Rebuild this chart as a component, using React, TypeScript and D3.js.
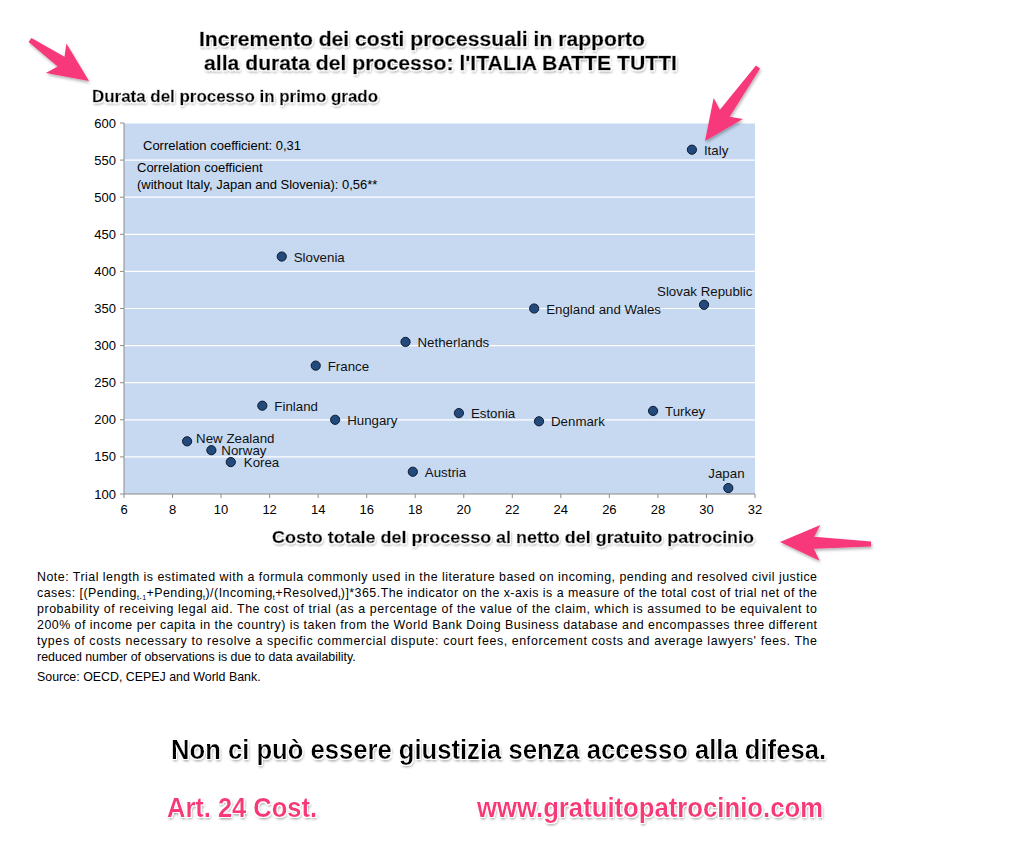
import React from "react";
import * as d3 from "d3";

const countries = ["Italy", "Slovenia", "Slovak Republic", "England and Wales", "Netherlands", "France", "Finland", "Hungary", "Estonia", "Denmark", "Turkey", "New Zealand", "Norway", "Korea", "Austria", "Japan"];
const costValues = [29.4, 12.5, 29.9, 22.9, 17.6, 13.9, 11.7, 14.7, 19.8, 23.1, 27.8, 8.6, 9.6, 10.4, 17.9, 30.9];
const durationValues = [564, 420, 355, 350, 305, 273, 219, 200, 209, 198, 212, 171, 159, 143, 130, 108];

const xTicks = [6, 8, 10, 12, 14, 16, 18, 20, 22, 24, 26, 28, 30, 32];
const yTicks = [100, 150, 200, 250, 300, 350, 400, 450, 500, 550, 600];

const titleLines = ["Incremento dei costi processuali in rapporto", "alla durata del processo: l'ITALIA BATTE TUTTI"];
const yAxisTitle = "Durata del processo in primo grado";
const xAxisTitle = "Costo totale del processo al netto del gratuito patrocinio";
const corrLines = ["Correlation coefficient: 0,31", "Correlation coefficient", "(without Italy, Japan and Slovenia): 0,56**"];
const noteLines = [
  "Note: Trial length is estimated with a formula commonly used in the literature based on incoming, pending and resolved civil justice",
  "SUBSCRIPT_LINE",
  "probability of receiving legal aid. The cost of trial (as a percentage of the value of the claim, which is assumed to be equivalent to",
  "200% of income per capita in the country) is taken from the World Bank Doing Business database and encompasses three different",
  "types of costs necessary to resolve a specific commercial dispute: court fees, enforcement costs and average lawyers' fees. The",
  "reduced number of observations is due to data availability.",
];
const sourceLine = "Source: OECD, CEPEJ and World Bank.";
const slogan = "Non ci può essere giustizia senza accesso alla difesa.";
const footerLeft = "Art. 24 Cost.";
const footerRight = "www.gratuitopatrocinio.com";

// label placement (offsets from the marker)
const labelPlacement: Record<string, [number, number, string]> = {
  "Slovak Republic": [-47, -9, "start"],
  Japan: [-20, -10, "start"],
  "New Zealand": [9, 2, "start"],
  Norway: [10, 5, "start"],
  Korea: [13, 5, "start"],
};

const FONT = "'Liberation Sans', Arial, Helvetica, sans-serif";
const PINK = "#f7377a";

function arrowPath(x0: number, y0: number, x1: number, y1: number) {
  const dx = x1 - x0, dy = y1 - y0;
  const L = Math.hypot(dx, dy);
  const ux = dx / L, uy = dy / L;
  const nx = -uy, ny = ux;
  const headLen = 34, headW = 18, barb = 6;
  const tailW = 2.5, neckW = 6;
  const bx = x1 - ux * headLen, by = y1 - uy * headLen;
  const cx = bx - ux * barb, cy = by - uy * barb;
  const pts: [number, number][] = [
    [x0 + nx * tailW, y0 + ny * tailW],
    [bx + nx * neckW, by + ny * neckW],
    [cx + nx * headW, cy + ny * headW],
    [x1, y1],
    [cx - nx * headW, cy - ny * headW],
    [bx - nx * neckW, by - ny * neckW],
    [x0 - nx * tailW, y0 - ny * tailW],
  ];
  return "M" + pts.map((p) => p.join(",")).join("L") + "Z";
}

export default function App() {
  const left = 124, right = 755, top = 123, bottom = 494;
  const x = d3.scaleLinear().domain([6, 32]).range([left, right]);
  const y = d3.scaleLinear().domain([100, 600]).range([bottom, top]);

  const noteX = 37, noteW = 780, noteY0 = 581, noteStep = 16;

  return (
    <svg width={1024} height={861} style={{ position: "absolute", left: 0, top: 0, background: "#fff" }} fontFamily={FONT}>
      <defs>
        <filter id="shadow" x="-5%" y="-30%" width="110%" height="160%">
          <feMorphology in="SourceAlpha" operator="dilate" radius="1" result="dil" />
          <feFlood floodColor="#ffffff" />
          <feComposite in2="dil" operator="in" result="white" />
          <feGaussianBlur in="SourceAlpha" stdDeviation="1.5" result="blur" />
          <feOffset in="blur" dx="1" dy="2" result="off" />
          <feComponentTransfer in="off" result="shadowFaint">
            <feFuncA type="linear" slope="0.45" />
          </feComponentTransfer>
          <feMerge>
            <feMergeNode in="shadowFaint" />
            <feMergeNode in="white" />
            <feMergeNode in="SourceGraphic" />
          </feMerge>
        </filter>
        <filter id="arrowShadow" x="-20%" y="-20%" width="140%" height="140%">
          <feDropShadow dx="1" dy="2" stdDeviation="1.5" floodColor="#000" floodOpacity="0.3" />
        </filter>
      </defs>

      {/* Title */}
      <g filter="url(#shadow)" fontWeight="bold" fill="#000" stroke="#000" strokeWidth={0.5}>
        <text x={199} y={46} fontSize={19.5} textLength={446} lengthAdjust="spacingAndGlyphs">{titleLines[0]}</text>
        <text x={204} y={70} fontSize={19.5} textLength={473} lengthAdjust="spacingAndGlyphs">{titleLines[1]}</text>
      </g>

      {/* Y-axis title */}
      <text x={92} y={102} fontSize={16} fontWeight="bold" stroke="#000" strokeWidth={0.4} textLength={286} lengthAdjust="spacingAndGlyphs" filter="url(#shadow)">{yAxisTitle}</text>

      {/* Plot area */}
      <rect x={left} y={top} width={right - left} height={bottom - top} fill="#c6d9f1" />
      {yTicks.filter((t) => t !== 100).map((t) => (
        <line key={"g" + t} x1={left} x2={right} y1={y(t)} y2={y(t)} stroke="#ffffff" strokeWidth={1.2} />
      ))}
      {/* Axes */}
      <line x1={left} x2={left} y1={top} y2={bottom} stroke="#8c8c8c" />
      <line x1={left} x2={right} y1={bottom} y2={bottom} stroke="#8c8c8c" />
      {yTicks.map((t) => (
        <g key={"y" + t}>
          <line x1={left - 4} x2={left} y1={y(t)} y2={y(t)} stroke="#8c8c8c" />
          <text x={left - 8} y={y(t) + 4.5} fontSize={13} textAnchor="end" fill="#000">{t}</text>
        </g>
      ))}
      {xTicks.map((t) => (
        <g key={"x" + t}>
          <line x1={x(t)} x2={x(t)} y1={bottom} y2={bottom + 4} stroke="#8c8c8c" />
          <text x={x(t)} y={bottom + 20} fontSize={13} textAnchor="middle" fill="#000">{t}</text>
        </g>
      ))}

      {/* Correlation annotations */}
      <text x={143} y={150} fontSize={13}>{corrLines[0]}</text>
      <text x={137} y={172} fontSize={13}>{corrLines[1]}</text>
      <text x={137} y={189} fontSize={13}>{corrLines[2]}</text>

      {/* Points */}
      {countries.map((c, i) => {
        const px = x(costValues[i]);
        const py = y(durationValues[i]);
        const pl = labelPlacement[c] || [12, 5, "start"];
        return (
          <g key={c}>
            <circle cx={px} cy={py} r={4.6} fill="#234a7c" stroke="#0d1a2e" strokeWidth={1} />
            <text x={px + pl[0]} y={py + pl[1]} fontSize={13.3} textAnchor={pl[2]} fill="#111">{c}</text>
          </g>
        );
      })}

      {/* X-axis title */}
      <text x={272} y={543} fontSize={16} fontWeight="bold" stroke="#000" strokeWidth={0.4} textLength={482} lengthAdjust="spacingAndGlyphs" filter="url(#shadow)">{xAxisTitle}</text>

      {/* Note */}
      <g fontSize={12.4} fill="#000">
        {noteLines.map((line, i) => {
          const yy = noteY0 + i * noteStep;
          const justify = i < noteLines.length - 1;
          if (line === "SUBSCRIPT_LINE") {
            return (
              <text key={i} x={noteX} y={yy} textLength={noteW} lengthAdjust="spacing">
                cases: [(Pending<tspan fontSize={7} dy={3}>t-1</tspan><tspan dy={-3}>+Pending</tspan><tspan fontSize={7} dy={3}>t</tspan><tspan dy={-3}>)/(Incoming</tspan><tspan fontSize={7} dy={3}>t</tspan><tspan dy={-3}>+Resolved</tspan><tspan fontSize={7} dy={3}>t</tspan><tspan dy={-3}>)]*365.The indicator on the x-axis is a measure of the total cost of trial net of the</tspan>
              </text>
            );
          }
          return (
            <text key={i} x={noteX} y={yy} {...(justify ? { textLength: noteW, lengthAdjust: "spacing" } : {})}>{line}</text>
          );
        })}
        <text x={noteX} y={681}>{sourceLine}</text>
      </g>

      {/* Slogan & footer */}
      <g filter="url(#shadow)" fontWeight="bold">
        <text x={171} y={759} fontSize={27} fill="#000" textLength={655} lengthAdjust="spacingAndGlyphs">{slogan}</text>
        <text x={167} y={817} fontSize={27} fill={PINK} textLength={150} lengthAdjust="spacingAndGlyphs">{footerLeft}</text>
        <text x={477} y={817} fontSize={27} fill={PINK} textLength={346} lengthAdjust="spacingAndGlyphs">{footerRight}</text>
      </g>

      {/* Arrows */}
      <g fill={PINK} filter="url(#arrowShadow)">
        <path d={arrowPath(30, 40, 89, 81)} />
        <path d={arrowPath(758, 67, 705, 141)} />
        <path d={arrowPath(871, 544, 780, 542)} />
      </g>
    </svg>
  );
}
